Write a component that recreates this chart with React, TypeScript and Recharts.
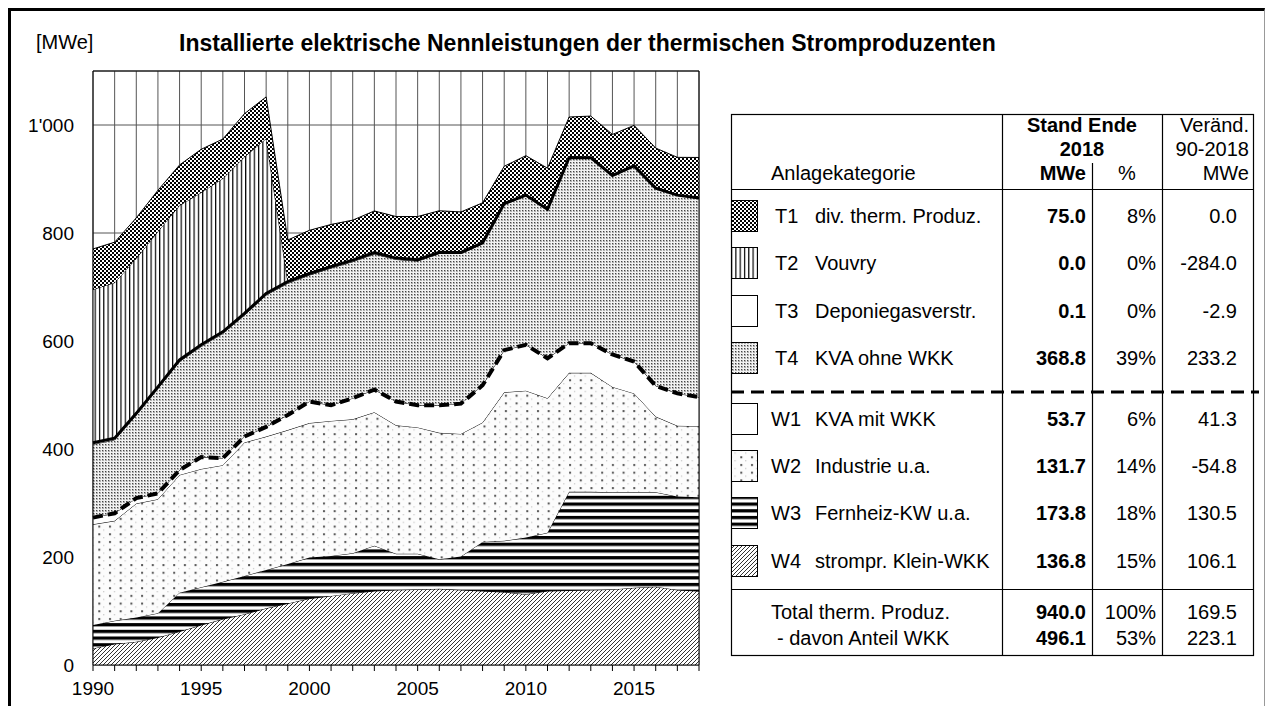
import React from "react";
import { ComposedChart, Area, Line, XAxis, YAxis, CartesianGrid, ReferenceLine } from "recharts";

// ---------- data ----------
const years = [1990, 1991, 1992, 1993, 1994, 1995, 1996, 1997, 1998, 1999, 2000, 2001, 2002, 2003, 2004, 2005, 2006, 2007, 2008, 2009, 2010, 2011, 2012, 2013, 2014, 2015, 2016, 2017, 2018];
const w4Klein = [30.7, 39, 43, 51, 62, 74, 85, 94, 105, 114, 123, 128, 133, 137, 139, 140, 141, 139, 137, 135, 131, 137, 138, 139, 140, 143, 145, 139, 136.8];
const w3Fernheiz = [43.3, 43, 45, 45, 72, 70, 69, 71, 71, 73, 76, 74, 74, 84, 67, 66, 55, 62, 91, 95, 105, 108, 183, 182, 180, 177, 175, 173, 173.8];
const w2Industrie = [186.5, 185, 211, 211, 218, 219, 216, 247, 247, 248, 249, 250, 248, 247, 238, 234, 234, 227, 221, 275, 272, 249, 220, 220, 195, 183, 140, 131, 131.7];
const w1KvaMit = [12.4, 14, 10, 11, 9, 22, 13, 11, 18, 28, 40, 29, 39, 42, 44, 41, 51, 56, 69, 78, 85, 74, 55, 55, 60, 59, 57, 60, 53.7];
const t4KvaOhne = [135.6, 136, 154, 194, 201, 205, 231, 225, 244, 244, 234, 254, 253, 251, 263, 267, 281, 278, 262, 270, 276, 275, 343, 343, 331, 362, 366, 367, 368.8];
const t3Deponie = [3.0, 3.0, 3.0, 3.0, 3.0, 3.0, 3.0, 3.0, 3.0, 3.0, 3.0, 2.8, 2.8, 2.8, 2.5, 2.5, 2.2, 2.0, 1.8, 1.5, 1.2, 1.0, 0.8, 0.5, 0.5, 0.3, 0.2, 0.1, 0.1];
const t2Vouvry = [284, 288, 287, 288, 286, 282, 284, 290, 287, 0, 0, 0, 0, 0, 0, 0, 0, 0, 0, 0, 0, 0, 0, 0, 0, 0, 0, 0, 0];
const t1Div = [75, 75, 75, 76, 75, 80, 73, 80, 77, 77, 80, 78, 74, 77, 77, 80, 77, 75, 74, 69, 73, 76, 75, 77, 76, 75, 74, 70, 75];
const yTicks = [0, 200, 400, 600, 800, 1000];

const tableCodes = ["T1", "T2", "T3", "T4", "W1", "W2", "W3", "W4"];
const tableNames = ["div. therm. Produz.", "Vouvry", "Deponiegasverstr.", "KVA ohne WKK", "KVA mit WKK", "Industrie u.a.", "Fernheiz-KW u.a.", "strompr. Klein-WKK"];
const tableMWe = ["75.0", "0.0", "0.1", "368.8", "53.7", "131.7", "173.8", "136.8"];
const tablePct = ["8%", "0%", "0%", "39%", "6%", "14%", "18%", "15%"];
const tableChange = ["0.0", "-284.0", "-2.9", "233.2", "41.3", "-54.8", "130.5", "106.1"];
const tableFills = ["url(#pT1)", "url(#pT2)", "#fff", "url(#pT4)", "#fff", "url(#pW2)", "url(#pW3)", "url(#pW4)"];
const totalLabels = ["Total therm. Produz.", "- davon Anteil WKK"];
const totalMWe = ["940.0", "496.1"];
const totalPct = ["100%", "53%"];
const totalChange = ["169.5", "223.1"];

const rows = years.map((year, i) => {
  const wkkTop = w4Klein[i] + w3Fernheiz[i] + w2Industrie[i] + w1KvaMit[i];
  return {
    year,
    w4: w4Klein[i],
    w3: w3Fernheiz[i],
    w2: w2Industrie[i],
    w1: w1KvaMit[i],
    t4: t4KvaOhne[i],
    t3: t3Deponie[i],
    t2: t2Vouvry[i],
    t1: t1Div[i],
    wkkTop,
    thermTop: wkkTop + t4KvaOhne[i] + t3Deponie[i],
  };
});

const fmtThousands = (v: number) => String(v).replace(/\B(?=(\d{3})+(?!\d))/g, "'");

// ---------- layout helpers ----------
const PAGE_W = 1267;
const FONT = "'Liberation Sans', Arial, sans-serif";
const FS = 19;
const TFS = 20;

type TxtProps = { x: number; y: number; text: string; align?: "left" | "right" | "center"; bold?: boolean; size?: number };
const Txt = ({ x, y, text, align = "left", bold = false, size = TFS }: TxtProps) => {
  const lh = 24;
  const style: React.CSSProperties = {
    position: "absolute",
    top: y - lh / 2,
    height: lh,
    lineHeight: lh + "px",
    fontSize: size,
    fontWeight: bold ? "bold" : "normal",
    whiteSpace: "pre",
    color: "#000",
  };
  if (align === "left") style.left = x;
  else if (align === "right") style.right = PAGE_W - x;
  else {
    style.left = x - 150;
    style.width = 300;
    style.textAlign = "center";
  }
  return <div style={style}>{text}</div>;
};

const areaCommon = {
  type: "linear" as const,
  stackId: "s",
  stroke: "#000",
  strokeWidth: 1,
  fillOpacity: 1,
  isAnimationActive: false,
  dot: false,
  activeDot: false,
};

export default function App() {
  // table geometry
  const TL = 731, TT = 114, TR = 1253, TB = 655;
  const C1 = 1002, C2 = 1092, C3 = 1162;
  const HB = 189;
  const tRows = [216, 263, 311, 358];
  const wRows = [419, 466, 513, 561];
  const rowY = (i: number) => (i < 4 ? tRows[i] : wRows[i - 4]);
  const dashY = 392;
  const totLineY = 589;
  const totY = [612, 638];

  return (
    <div style={{ position: "absolute", left: 0, top: 0, width: PAGE_W, height: 706, overflow: "hidden", fontFamily: FONT, background: "#fff" }}>
      <svg width={0} height={0} style={{ position: "absolute" }}>
        <defs>
          <pattern id="pT1" width={4} height={4} patternUnits="userSpaceOnUse">
            <rect width={4} height={4} fill="#fff" />
            <rect x={0} y={0} width={2} height={2} fill="#000" />
            <rect x={2} y={2} width={2} height={2} fill="#000" />
          </pattern>
          <pattern id="pT2" width={4.3} height={4} patternUnits="userSpaceOnUse">
            <rect width={4.3} height={4} fill="#fff" />
            <rect x={0} y={0} width={1.2} height={4} fill="#000" />
          </pattern>
          <pattern id="pT4" width={3} height={3} patternUnits="userSpaceOnUse">
            <rect width={3} height={3} fill="#f2f2f2" />
            <rect x={0} y={0} width={2} height={2} fill="#b0b0b0" />
            <rect x={0} y={0} width={1} height={1} fill="#444" />
          </pattern>
          <pattern id="pW2" width={10.7} height={7.7} patternUnits="userSpaceOnUse">
            <rect width={10.7} height={7.7} fill="#fcfcfc" />
            <rect x={2} y={2} width={2} height={2} fill="#555" />
            <rect x={7} y={6} width={1} height={1} fill="#aaa" />
          </pattern>
          <pattern id="pW3" width={6.7} height={6.7} patternUnits="userSpaceOnUse">
            <rect width={6.7} height={6.7} fill="#fff" />
            <rect x={0} y={0} width={6.7} height={3} fill="#000" />
            <rect x={0} y={3} width={6.7} height={0.8} fill="#888" />
          </pattern>
          <pattern id="pW4" width={4} height={4} patternUnits="userSpaceOnUse">
            <rect width={4} height={4} fill="#fff" />
            <path d="M0,4 L4,0 M-1,1 L1,-1 M3,5 L5,3" stroke="#333" strokeWidth={1} />
          </pattern>
        </defs>
      </svg>

      {/* outer frame */}
      <div style={{ position: "absolute", left: 8, top: 8, width: 1253, height: 720, borderTop: "3px solid #000", borderLeft: "3px solid #000", borderRight: "1px solid #999" }} />

      {/* titles */}
      <Txt x={36} y={42} text="[MWe]" size={20} />
      <Txt x={179} y={43} text="Installierte elektrische Nennleistungen der thermischen Stromproduzenten" size={23} bold />

      {/* chart */}
      <div style={{ position: "absolute", left: 0, top: 0 }}>
        <ComposedChart width={720} height={706} data={rows} margin={{ top: 71, right: 21, bottom: 11, left: 0 }}>
          <CartesianGrid stroke="#555" strokeWidth={1} />
          <XAxis
            dataKey="year"
            type="number"
            domain={[1990, 2018]}
            ticks={years}
            interval={0}
            tickFormatter={(v: number) => (v % 5 === 0 ? String(v) : "")}
            tick={{ fill: "#000", fontSize: FS }}
            tickSize={6}
            tickMargin={11}
            axisLine={{ stroke: "#000" }}
            tickLine={{ stroke: "#000" }}
            height={30}
          />
          <YAxis
            type="number"
            domain={[0, 1100]}
            ticks={yTicks}
            tickFormatter={fmtThousands}
            tick={{ fill: "#000", fontSize: FS }}
            tickLine={false}
            tickSize={0}
            tickMargin={19}
            axisLine={{ stroke: "#000" }}
            width={93}
          />
          <Area {...areaCommon} dataKey="w4" fill="url(#pW4)" />
          <Area {...areaCommon} dataKey="w3" fill="url(#pW3)" />
          <Area {...areaCommon} dataKey="w2" fill="url(#pW2)" />
          <Area {...areaCommon} dataKey="w1" fill="#fff" />
          <Area {...areaCommon} dataKey="t4" fill="url(#pT4)" />
          <Area {...areaCommon} dataKey="t3" fill="#fff" />
          <Area {...areaCommon} dataKey="t2" fill="url(#pT2)" />
          <Area {...areaCommon} dataKey="t1" fill="url(#pT1)" />
          <Line type="linear" dataKey="thermTop" stroke="#000" strokeWidth={3} dot={false} activeDot={false} isAnimationActive={false} />
          <Line type="linear" dataKey="wkkTop" stroke="#000" strokeWidth={4} strokeDasharray="10 5" dot={false} activeDot={false} isAnimationActive={false} />
          <ReferenceLine y={1100} stroke="#000" />
          <ReferenceLine x={2018} stroke="#000" />
        </ComposedChart>
      </div>

      {/* table lines and swatches */}
      <svg width={PAGE_W} height={706} style={{ position: "absolute", left: 0, top: 0 }}>
        <rect x={TL + 0.5} y={TT + 0.5} width={TR - TL} height={TB - TT} fill="none" stroke="#000" strokeWidth={1.2} />
        <line x1={TL} x2={TR} y1={HB + 0.5} y2={HB + 0.5} stroke="#000" strokeWidth={1.2} />
        <line x1={TL} x2={TR} y1={totLineY + 0.5} y2={totLineY + 0.5} stroke="#000" strokeWidth={1.2} />
        <line x1={C1 + 0.5} x2={C1 + 0.5} y1={TT} y2={TB} stroke="#000" strokeWidth={1.2} />
        <line x1={C2 + 0.5} x2={C2 + 0.5} y1={163} y2={TB} stroke="#000" strokeWidth={1.2} />
        <line x1={C3 + 0.5} x2={C3 + 0.5} y1={TT} y2={TB} stroke="#000" strokeWidth={1.2} />
        <line x1={TL} x2={1259} y1={dashY} y2={dashY} stroke="#000" strokeWidth={3} strokeDasharray="13 7" />
        {tableCodes.map((c, i) => (
          <rect key={c} x={TL + 0.5} y={rowY(i) - 15.5} width={26} height={31} fill={tableFills[i]} stroke="#000" strokeWidth={1} />
        ))}
      </svg>

      {/* table texts */}
      <Txt x={(C1 + C3) / 2} y={125} text="Stand Ende" align="center" bold />
      <Txt x={(C1 + C3) / 2} y={149} text="2018" align="center" bold />
      <Txt x={TR - 4} y={125} text="Veränd." align="right" />
      <Txt x={TR - 4} y={149} text="90-2018" align="right" />
      <Txt x={771} y={173} text="Anlagekategorie" />
      <Txt x={C2 - 6} y={173} text="MWe" align="right" bold />
      <Txt x={(C2 + C3) / 2} y={173} text="%" align="center" />
      <Txt x={TR - 4} y={173} text="MWe" align="right" />
      {tableCodes.map((c, i) => (
        <React.Fragment key={c}>
          <Txt x={i < 4 ? 775 : 771} y={rowY(i)} text={c} />
          <Txt x={815} y={rowY(i)} text={tableNames[i]} />
          <Txt x={C2 - 6} y={rowY(i)} text={tableMWe[i]} align="right" bold />
          <Txt x={C3 - 6} y={rowY(i)} text={tablePct[i]} align="right" />
          <Txt x={TR - 16} y={rowY(i)} text={tableChange[i]} align="right" />
        </React.Fragment>
      ))}
      {totalLabels.map((t, i) => (
        <React.Fragment key={t}>
          <Txt x={i === 0 ? 771 : 777} y={totY[i]} text={t} />
          <Txt x={C2 - 6} y={totY[i]} text={totalMWe[i]} align="right" bold />
          <Txt x={C3 - 6} y={totY[i]} text={totalPct[i]} align="right" />
          <Txt x={TR - 16} y={totY[i]} text={totalChange[i]} align="right" />
        </React.Fragment>
      ))}
    </div>
  );
}
